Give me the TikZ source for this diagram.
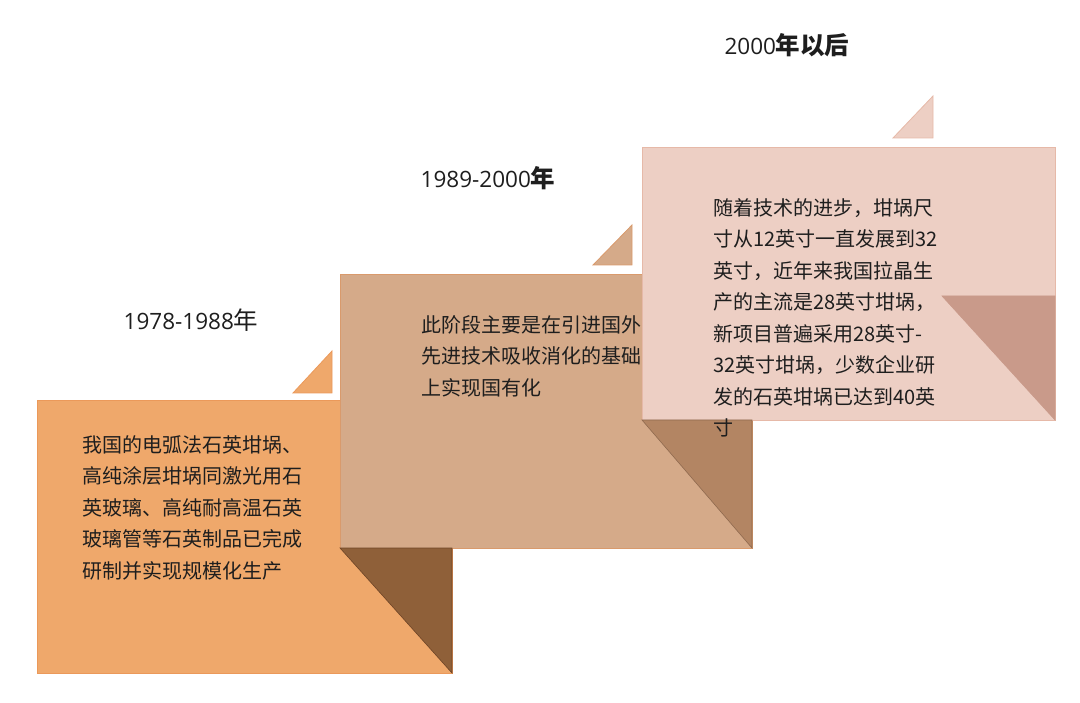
\documentclass[tikz,border=0pt]{standalone}
\usepackage{fontspec}
\setmainfont{Noto Sans CJK SC}
\newfontfamily\yeardigits{Open Sans}
\usetikzlibrary{positioning}
\definecolor{oneFill}{HTML}{EFA86B}
\definecolor{oneLine}{HTML}{EB995A}
\definecolor{oneFold}{HTML}{8F6039}
\definecolor{oneFoldLine}{HTML}{6E4426}
\definecolor{twoFill}{HTML}{D5AA89}
\definecolor{twoLine}{HTML}{D99A6C}
\definecolor{twoFold}{HTML}{B38563}
\definecolor{threeFill}{HTML}{EDCFC4}
\definecolor{threeLine}{HTML}{E6B9A8}
\definecolor{threeFold}{HTML}{C99A8A}
\definecolor{ink}{HTML}{1E1E1E}
\newcommand{\yr}[1]{{\yeardigits\fontsize{22.5pt}{25pt}\selectfont #1}}
\tikzset{
x=1pt, y=-1pt, % one unit per pixel, y runs downwards
panel/.style={draw, line width=0.8pt, inner sep=0pt, outer sep=0pt, anchor=north west}, % the big cards
tab/.style={line width=0.8pt, line join=miter}, % small triangle above each card
fold/.style={line width=0.6pt}, % darker corner of each card
body/.style={inner sep=0pt, align=left, text=ink, font=\fontsize{20pt}{31.5pt}\selectfont}, % card text
year/.style={inner sep=0pt, text=ink, font=\fontsize{24.5pt}{27pt}\selectfont}, % period titles
}
\begin{document}
\begin{tikzpicture}
    \useasboundingbox (0,0) rectangle (1080,703);

    % first card
    \node[panel, fill=oneFill, draw=oneLine, minimum width=415pt, minimum height=273pt] (p1) at (37,400) {};
    \draw[tab, fill=oneFill, draw=oneLine] (293,393) -- (332,393) -- (332,351) -- cycle;
    \node[body, below right=35pt and 45pt of p1.north west] (t1)
        {我国的电弧法石英坩埚、\\高纯涂层坩埚同激光用石\\英玻璃、高纯耐高温石英\\玻璃管等石英制品已完成\\研制并实现规模化生产};
    \node[year] (y1) at (191,320) {\yr{1978-1988}年};

    % second card
    \node[panel, fill=twoFill, draw=twoLine, minimum width=412pt, minimum height=274pt] (p2) at (340,274) {};
    \draw[fold, fill=oneFold, draw=oneFoldLine] (p2.south west) -- (p2.south west -| p1.east) -- (p1.south east) -- cycle;
    \draw[tab, fill=twoFill, draw=twoLine] (593,265) -- (632,265) -- (632,225) -- cycle;
    \node[body, below right=41pt and 81pt of p2.north west] (t2)
        {此阶段主要是在引进国外\\先进技术吸收消化的基础\\上实现国有化};
    \node[year] (y2) at (488,178) {\yr{1989-2000}\textbf{年}};

    % third card
    \node[panel, fill=threeFill, draw=threeLine, minimum width=413pt, minimum height=273pt] (p3) at (642,147) {};
    \draw[fold, fill=twoFold, draw=twoFold!80!black] (p3.south west) -- (p3.south west -| p2.east) -- (p2.south east) -- cycle;
    \draw[fold, fill=threeFold, draw=threeFold] (942,296) -- (p3.east |- 942,296) -- (p3.south east) -- cycle;
    \draw[tab, fill=threeFill, draw=threeLine] (893,138) -- (933,138) -- (933,96) -- cycle;
    \node[body, below right=51pt and 71pt of p3.north west] (t3)
        {随着技术的进步，坩埚尺\\寸从12英寸一直发展到32\\英寸，近年来我国拉晶生\\产的主流是28英寸坩埚，\\新项目普遍采用28英寸-\\32英寸坩埚，少数企业研\\发的石英坩埚已达到40英\\寸};
    \node[year] (y3) at (787,45) {\yr{2000}\textbf{年以后}};

\end{tikzpicture}
\end{document}
